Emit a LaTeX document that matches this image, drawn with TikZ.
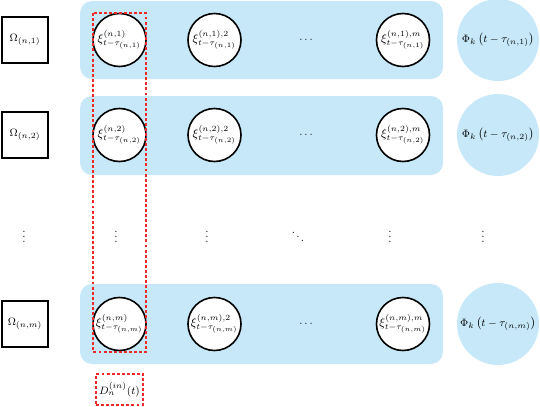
\documentclass[tikz,border=0pt]{standalone}
\usepackage{amsmath}
\definecolor{rowblue}{RGB}{198,232,248}
\definecolor{dred}{RGB}{240,40,40}
\tikzset{
  every node/.style={font=\fontsize{8.3}{10}\selectfont},
  rowband/.style={fill=rowblue, rounded corners=9pt},
  xinode/.style={circle, draw=black, line width=1.2pt, fill=white, minimum size=53*0.75pt, inner sep=0pt, font=\fontsize{8.6}{10}\selectfont},
  phinode/.style={circle, fill=rowblue, minimum size=82*0.75pt, inner sep=0pt},
  omegabox/.style={draw=black, line width=1.4pt, fill=white, minimum size=46*0.75pt, inner sep=0pt},
  redbox/.style={draw=dred, line width=1.3pt, dash pattern=on 2.2pt off 1.6pt},
  lbl/.style={inner sep=0pt}
}
\begin{document}
\begin{tikzpicture}[x=0.75pt,y=-0.75pt]
\useasboundingbox (0,0) rectangle (540,407);
% bands
\fill[rowband] (80,1) rectangle (443,79);
\fill[rowband] (80,96) rectangle (443,175);
\fill[rowband] (80,284) rectangle (443,364);
% row 1
\node[omegabox] (o1) at (25,40) {$\Omega_{(n,1)}$};
\node[xinode] (x11) at (119.5,40) {$\xi^{(n,1)}_{t-\tau_{(n,1)}}$};
\node[xinode] (x12) at (214.5,40) {$\xi^{(n,1),2}_{t-\tau_{(n,1)}}$};
\node[lbl] (h1) at (307,40) {$\cdots$};
\node[xinode] (x1m) at (403,40) {$\xi^{(n,1),m}_{t-\tau_{(n,1)}}$};
\node[phinode] (p1) at (498,40) {$\Phi_k\left(t-\tau_{(n,1)}\right)$};
% row 2
\node[omegabox] (o2) at (25,135) {$\Omega_{(n,2)}$};
\node[xinode] (x21) at (119.5,135) {$\xi^{(n,2)}_{t-\tau_{(n,2)}}$};
\node[xinode] (x22) at (214.5,135) {$\xi^{(n,2),2}_{t-\tau_{(n,2)}}$};
\node[lbl] (h2) at (307,135) {$\cdots$};
\node[xinode] (x2m) at (403,135) {$\xi^{(n,2),m}_{t-\tau_{(n,2)}}$};
\node[phinode] (p2) at (498,135) {$\Phi_k\left(t-\tau_{(n,2)}\right)$};
% dots row
\node[lbl] (v0) at (24,233) {$\vdots$};
\node[lbl] (v1) at (116,233) {$\vdots$};
\node[lbl] (v2) at (207,233) {$\vdots$};
\node[lbl] (dd) at (298,233) {$\ddots$};
\node[lbl] (v3) at (390,233) {$\vdots$};
\node[lbl] (v4) at (483,233) {$\vdots$};
% row m
\node[omegabox] (om) at (25,324) {$\Omega_{(n,m)}$};
\node[xinode] (xm1) at (119.5,324) {$\xi^{(n,m)}_{t-\tau_{(n,m)}}$};
\node[xinode] (xm2) at (214.5,324) {$\xi^{(n,m),2}_{t-\tau_{(n,m)}}$};
\node[lbl] (hm) at (307,324) {$\cdots$};
\node[xinode] (xmm) at (403,324) {$\xi^{(n,m),m}_{t-\tau_{(n,m)}}$};
\node[phinode] (pm) at (498,324) {$\Phi_k\left(t-\tau_{(n,m)}\right)$};
% red dashed column
\draw[redbox] (93,13) rectangle (146,352);
\node[redbox, minimum width=47*0.75pt, minimum height=31*0.75pt, inner sep=0pt] (d) at (119.5,389.5) {$D^{(in)}_n(t)$};
\end{tikzpicture}
\end{document}
